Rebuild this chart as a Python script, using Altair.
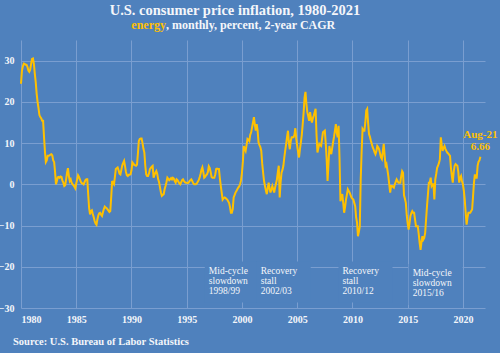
import altair as alt
import pandas as pd

# ---- data: energy CPI, 2-year CAGR, monthly (Jan..Dec), percent ----
energy = {
    1980: [24.4, 27.5, 28.6, 29.3, 29.2, 29.0, 29.0, 28.5, 27.6, 27.3, 27.8, 29.2],
    1981: [30.4, 30.5, 29.2, 26.8, 24.8, 22.0, 20.0, 18.5, 16.8, 16.3, 16.0, 15.4],
    1982: [15.4, 11.5, 8.0, 5.4, 5.8, 6.9, 6.9, 7.0, 7.2, 7.3, 7.0, 5.8],
    1983: [5.4, 3.0, 0.0, 0.8, 1.7, 1.8, 1.6, 1.9, 1.8, 0.9, 0.4, -0.4],
    1984: [-0.2, 1.2, 2.8, 3.9, 2.0, 0.8, 1.2, 0.4, 0.0, -0.2, -0.6, -1.0],
    1985: [0.2, 1.2, 2.2, 1.8, 1.2, 0.6, 0.3, 0.2, 0.0, 0.5, 1.0, 1.2],
    1986: [1.2, -2.5, -5.8, -7.3, -6.5, -6.3, -7.2, -8.0, -8.9, -9.5, -9.8, -8.5],
    1987: [-7.5, -7.0, -6.9, -7.4, -7.7, -6.8, -6.0, -5.4, -5.6, -5.8, -6.1, -6.4],
    1988: [-6.7, -6.5, -3.0, 0.8, 0.3, 0.0, 1.8, 3.7, 3.9, 4.1, 3.4, 2.6],
    1989: [2.4, 3.5, 4.6, 5.2, 5.7, 4.4, 3.0, 2.2, 2.0, 2.3, 2.3, 2.4],
    1990: [3.4, 5.3, 5.0, 4.7, 4.6, 4.5, 4.8, 7.5, 10.5, 11.0, 11.1, 11.1],
    1991: [10.0, 8.6, 7.7, 4.5, 2.4, 2.0, 2.0, 2.6, 3.7, 4.0, 4.3, 4.5],
    1992: [1.6, 2.3, 2.8, 3.2, 2.5, 1.2, 0.5, -0.8, -2.0, -2.8, -2.6, -2.4],
    1993: [-1.2, -0.4, 0.5, 1.6, 1.3, 1.0, 1.2, 1.5, 1.2, 1.6, 1.4, 0.8],
    1994: [0.4, 1.2, 1.0, 0.6, 0.2, 0.0, 0.5, 1.0, 1.2, 0.8, 0.5, 0.4],
    1995: [0.4, 0.3, 0.4, 0.8, 1.0, 1.2, 0.8, 0.3, 0.0, 0.0, 0.0, 0.2],
    1996: [0.6, 1.0, 1.6, 2.5, 3.5, 4.1, 3.0, 1.6, 1.8, 2.2, 2.4, 3.0],
    1997: [4.4, 4.0, 3.0, 1.8, 1.6, 1.6, 1.6, 2.4, 3.7, 3.8, 3.7, 3.7],
    1998: [1.5, -0.4, -2.0, -3.7, -3.4, -3.2, -3.3, -3.5, -3.7, -4.1, -4.5, -5.5],
    1999: [-6.9, -6.9, -6.0, -3.2, -2.6, -2.0, -1.6, -1.2, -0.8, -0.5, 0.0, 1.0],
    2000: [2.8, 5.5, 9.3, 8.6, 8.1, 9.5, 11.0, 10.8, 10.5, 12.0, 12.6, 13.8],
    2001: [15.0, 16.3, 14.5, 13.0, 14.6, 13.0, 10.2, 9.5, 9.0, 8.1, 5.0, 2.8],
    2002: [0.8, -0.4, -1.5, -2.4, -1.0, 0.4, -1.0, -2.0, -1.2, -0.4, -1.2, -2.0],
    2003: [-0.8, 0.2, 1.2, 3.0, 4.5, -3.2, 0.5, 2.8, 3.5, 4.5, 6.5, 8.2],
    2004: [9.8, 11.5, 13.0, 10.0, 8.5, 10.5, 11.4, 11.4, 11.4, 12.0, 13.6, 11.0],
    2005: [9.3, 7.8, 6.5, 8.5, 10.2, 12.0, 14.6, 17.5, 21.0, 22.4, 19.5, 17.5],
    2006: [16.5, 15.4, 17.5, 16.0, 15.0, 16.0, 16.7, 17.5, 18.3, 12.0, 7.7, 8.8],
    2007: [9.8, 9.5, 9.3, 11.0, 12.6, 12.8, 13.0, 10.0, 6.1, 0.8, 5.0, 9.3],
    2008: [8.0, 7.3, 8.8, 10.2, 11.5, 13.0, 14.6, 12.5, 11.4, 14.2, 6.0, -4.1],
    2009: [-3.0, -2.4, -4.5, -6.9, -5.5, -3.7, -2.5, -1.2, -1.6, -2.0, -2.6, -3.2],
    2010: [-3.5, -3.7, -4.5, -5.3, -8.0, -9.3, -12.6, -11.5, -10.2, 1.2, 8.0, 13.4],
    2011: [13.0, 13.0, 15.0, 17.9, 18.3, 15.0, 12.2, 11.5, 10.6, 9.8, 9.0, 8.5],
    2012: [7.8, 7.3, 8.0, 9.3, 9.0, 8.5, 7.5, 6.5, 6.1, 8.0, 9.8, 7.0],
    2013: [4.5, 4.9, 3.5, 2.0, 0.0, -2.0, -0.4, -0.4, -0.6, -0.8, 0.0, 0.6],
    2014: [1.2, 0.8, 0.4, 0.4, 0.4, 2.0, 3.2, 2.8, -2.6, -3.5, -4.5, -7.5],
    2015: [-9.5, -11.0, -9.5, -7.7, -7.0, -6.5, -6.9, -6.9, -8.5, -10.2, -10.2, -10.2],
    2016: [-12.0, -14.2, -15.9, -14.0, -12.6, -13.4, -13.0, -11.8, -8.5, -5.3, -2.5, 0.4],
    2017: [0.4, 1.6, -0.4, 0.0, 0.0, -3.7, 1.2, 2.5, 4.0, 4.5, 5.2, 6.1],
    2018: [11.4, 9.5, 8.1, 8.8, 9.3, 8.6, 8.1, 7.7, 7.5, 7.2, 6.9, 4.0],
    2019: [2.0, 0.4, 3.0, 4.5, 4.9, 4.7, 4.5, 3.0, 0.4, 1.5, 2.0, 0.8],
    2020: [0.0, -1.5, -3.7, -6.9, -9.8, -8.0, -6.9, -6.9, -6.9, -6.5, -6.1, -3.0],
    2021: [0.4, 2.4, 1.6, 1.6, 4.5, 5.5, 5.8, 6.66],
}
month_names = ["Jan", "Feb", "Mar", "Apr", "May", "Jun",
               "Jul", "Aug", "Sep", "Oct", "Nov", "Dec"]
x_ticks = [1980, 1985, 1990, 1995, 2000, 2005, 2010, 2015, 2020]
y_ticks = [-30, -20, -10, 0, 10, 20, 30]

ann_text = ["Mid-cycle\nslowdown\n1998/99", "Recovery\nstall\n2002/03",
            "Recovery\nstall\n2010/12", "Mid-cycle\nslowdown\n2015/16"]
ann_year = [1997.0, 2001.7, 2009.1, 2015.45]
ann_val = [-19.7, -19.7, -19.7, -20.3]

title_text = "U.S. consumer price inflation, 1980-2021"
sub_hl = "energy"
sub_rest = ", monthly, percent, 2-year CAGR"
source_text = "Source: U.S. Bureau of Labor Statistics"

# ---- build tables ----
rows = []
for yr, vals in energy.items():
    for i, v in enumerate(vals):
        rows.append({"t": yr + i / 12.0, "v": v, "m": i, "yr": yr})
df = pd.DataFrame(rows)
last = df.iloc[-1]
end_df = pd.DataFrame([{
    "t": last["t"], "v": last["v"],
    "lab1": f"{month_names[int(last['m'])]}-{str(int(last['yr']))[2:]}",
    "lab2": f"{last['v']:.2f}",
}])
ann_df = pd.DataFrame({"text": ann_text, "t": ann_year, "v": ann_val})
PX_X = 42 / 464.0   # years per pixel
PX_Y = 65 / 268.0   # value per pixel
ann_df["x1"] = ann_df["t"] - 4 * PX_X
ann_df["x2"] = ann_df["t"] + 50 * PX_X
ann_df["y1"] = ann_df["v"] + 4 * PX_Y
ann_df["y2"] = ann_df["v"] - 37 * PX_Y
one = pd.DataFrame({"a": [0]})

BG = "#4F81BD"
GOLD = "#FFC000"
WHITE = "#F4F6FA"
FONT = "Liberation Serif"

xs = alt.Scale(domain=[1980, 2022], nice=False, zero=False)
ys = alt.Scale(domain=[-30, 35], nice=False, zero=False)

base = alt.Chart(df).encode(
    x=alt.X("t:Q", scale=xs, title=None,
            axis=alt.Axis(values=x_ticks, format="d", labelPadding=6)),
    y=alt.Y("v:Q", scale=ys, title=None,
            axis=alt.Axis(values=y_ticks, labelPadding=7)),
)
line = base.mark_line(color=GOLD, strokeWidth=2)

boxes = alt.Chart(ann_df).mark_rect(color=BG).encode(
    x=alt.X("x1:Q", scale=xs), x2="x2:Q",
    y=alt.Y("y1:Q", scale=ys), y2="y2:Q",
)
ann = alt.Chart(ann_df).mark_text(
    align="left", baseline="top", font=FONT, fontSize=9.5,
    color=WHITE, lineBreak="\n", lineHeight=10,
).encode(x=alt.X("t:Q", scale=xs), y=alt.Y("v:Q", scale=ys), text="text:N")

end1 = alt.Chart(end_df).mark_text(
    align="center", baseline="alphabetic", font=FONT, fontSize=11,
    fontWeight="bold", color=GOLD, dy=-19,
).encode(x=alt.X("t:Q", scale=xs), y=alt.Y("v:Q", scale=ys), text="lab1:N")
end2 = alt.Chart(end_df).mark_text(
    align="center", baseline="alphabetic", font=FONT, fontSize=11,
    fontWeight="bold", color=GOLD, dy=-7,
).encode(x=alt.X("t:Q", scale=xs), y=alt.Y("v:Q", scale=ys), text="lab2:N")

title = alt.Chart(one).mark_text(
    align="center", baseline="alphabetic", font=FONT, fontSize=14.5,
    fontWeight="bold", color=WHITE,
).encode(x=alt.value(214), y=alt.value(-25), text=alt.value(title_text))
sub1 = alt.Chart(one).mark_text(
    align="right", baseline="alphabetic", font=FONT, fontSize=12,
    fontWeight="bold", color=GOLD,
).encode(x=alt.value(145), y=alt.value(-11), text=alt.value(sub_hl))
sub2 = alt.Chart(one).mark_text(
    align="left", baseline="alphabetic", font=FONT, fontSize=12,
    fontWeight="bold", color=WHITE,
).encode(x=alt.value(145), y=alt.value(-11), text=alt.value(sub_rest))
source = alt.Chart(one).mark_text(
    align="left", baseline="alphabetic", font=FONT, fontSize=10.5,
    fontWeight="bold", color=WHITE,
).encode(x=alt.value(-8), y=alt.value(305), text=alt.value(source_text))

chart = alt.layer(
    boxes, line, ann, end1, end2, title, sub1, sub2, source
).properties(
    width=464, height=268, background=BG,
    autosize=alt.AutoSizeParams(type="none"),
    padding={"left": 21, "top": 40, "right": 15, "bottom": 45},
).configure_view(stroke=None).configure_axis(
    grid=True, gridColor="#7A9ED0", gridWidth=1, domain=False, ticks=False,
    labelColor=WHITE, labelFont=FONT, labelFontSize=10, labelFontWeight="bold",
)

chart.save("out.html", embed_options={"renderer": "svg", "actions": False})
